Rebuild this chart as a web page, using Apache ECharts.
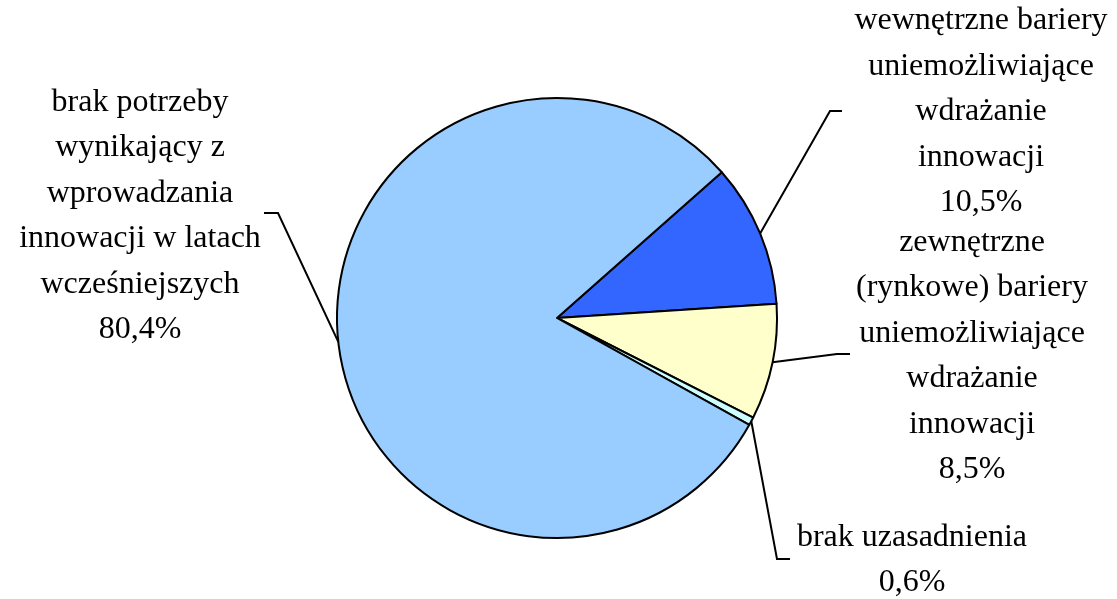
<!DOCTYPE html>
<html>
<head>
<meta charset="utf-8">
<script src="https://cdn.jsdelivr.net/npm/echarts@6/dist/echarts.min.js"></script>
<style>
html,body{margin:0;padding:0;background:#fff;}
#c{width:1117px;height:599px;}
</style>
</head>
<body>
<div id="c"></div>
<script>
// Data
const categories = [
  'wewnętrzne bariery\nuniemożliwiające\nwdrażanie\ninnowacji',
  'zewnętrzne\n(rynkowe) bariery\nuniemożliwiające\nwdrażanie\ninnowacji',
  'brak uzasadnienia',
  'brak potrzeby\nwynikający z\nwprowadzania\ninnowacji w latach\nwcześniejszych'
];
const values = [10.5, 8.5, 0.6, 80.4];
const colors = ['#3366FF', '#FFFFCC', '#CCFFFF', '#99CCFF'];

// Label placement (label block centre and label-line elbow/end)
const labelPos = [
  {x: 981, y: 112, elbow: [830, 111], end: [842, 111]},
  {x: 972, y: 356, elbow: [837, 354], end: [850, 354]},
  {x: 912, y: 560, elbow: [777, 559], end: [790, 559]},
  {x: 140, y: 216, elbow: [278, 213], end: [264, 213]}
];

const chart = echarts.init(document.getElementById('c'), null, {renderer: 'canvas'});
chart.setOption({
  animation: false,
  backgroundColor: '#ffffff',
  series: [{
    type: 'pie',
    center: [557, 318],
    radius: [0, 220],
    startAngle: 41.5,
    clockwise: true,
    avoidLabelOverlap: false,
    data: categories.map((n, i) => ({
      name: n, value: values[i],
      itemStyle: {color: colors[i]}
    })),
    itemStyle: {borderColor: '#000', borderWidth: 2},
    label: {
      show: true,
      position: 'outside',
      fontFamily: 'Liberation Serif',
      fontSize: 32,
      lineHeight: 45.5,
      color: '#000',
      align: 'center',
      formatter: p => p.name + '\n' + p.value.toFixed(1).replace('.', ',') + '%'
    },
    labelLine: {show: true, length: 20, length2: 10, lineStyle: {color: '#000', width: 2}},
    labelLayout: function (params) {
      const lp = labelPos[params.dataIndex];
      const p0 = params.labelLinePoints ? params.labelLinePoints[0] : lp.elbow;
      return {
        x: lp.x, y: lp.y, align: 'center', verticalAlign: 'middle',
        labelLinePoints: [p0, lp.elbow, lp.end]
      };
    },
    emphasis: {disabled: true}
  }]
});
</script>
</body>
</html>
